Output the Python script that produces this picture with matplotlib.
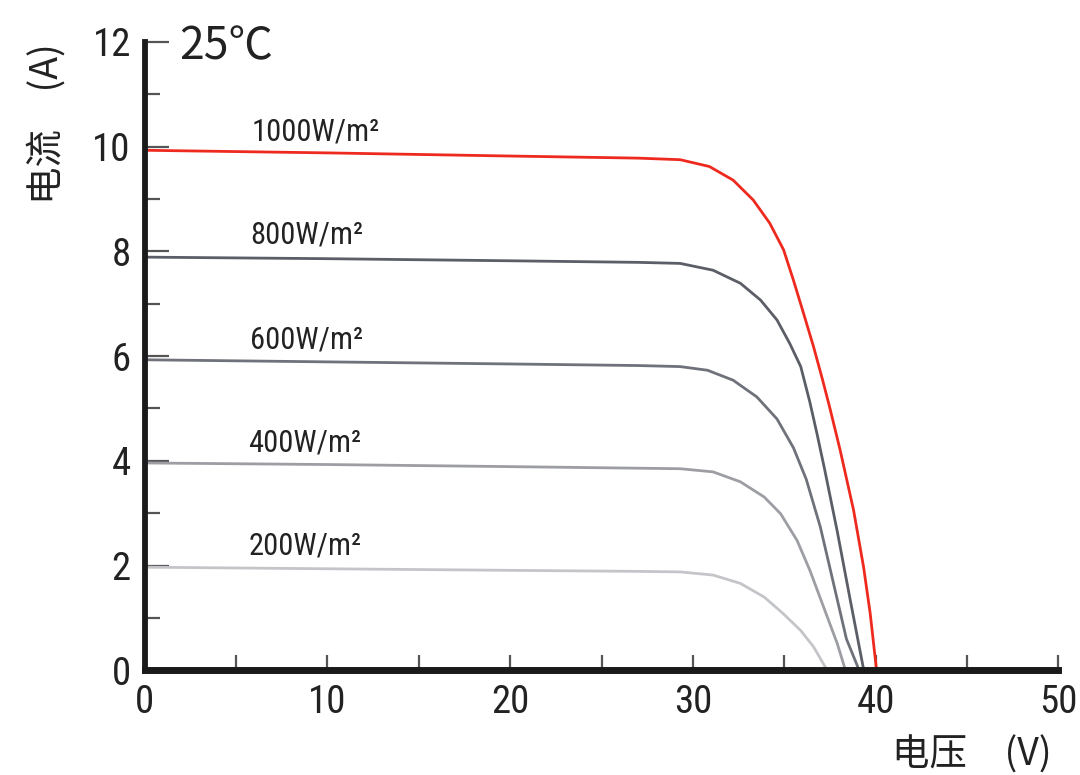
import matplotlib
matplotlib.use("Agg")
import matplotlib.pyplot as plt
from matplotlib.ticker import MultipleLocator
from matplotlib import font_manager

# pick a narrow latin font if one is installed
latin = 'Roboto'
for cand in ['Roboto Condensed', 'Liberation Sans Narrow', 'Open Sans Condensed']:
    try:
        font_manager.findfont(font_manager.FontProperties(family=cand), fallback_to_default=False)
        latin = cand
        break
    except Exception:
        pass

plt.rcParams['font.family'] = [latin, 'Noto Sans CJK SC', 'DejaVu Sans']

# ---- data ----
irradiance_labels = ["1000W/m²", "800W/m²", "600W/m²", "400W/m²", "200W/m²"]

v_1000 = [0, 10, 20, 27, 29.3, 30.9, 32.2, 33.3, 34.2, 34.96, 35.5, 36.05, 36.6, 37.1, 37.5,
          38.06, 38.79, 39.34, 39.7, 40.05]
i_1000 = [9.93, 9.88, 9.82, 9.78, 9.75, 9.62, 9.36, 8.98, 8.54, 8.03, 7.45, 6.82, 6.18, 5.54, 5.00,
          4.20, 3.06, 1.97, 1.09, 0.0]

v_800 = [0, 10, 20, 27, 29.3, 31.1, 32.6, 33.7, 34.6, 35.3, 35.9, 36.4, 36.8, 37.2, 37.9, 38.6, 39.35]
i_800 = [7.89, 7.86, 7.82, 7.79, 7.77, 7.64, 7.39, 7.07, 6.69, 6.24, 5.80, 5.12, 4.50, 3.85, 2.65, 1.36, 0.0]

v_600 = [0, 10, 20, 27, 29.3, 30.8, 32.2, 33.5, 34.6, 35.5, 36.2, 36.97, 37.7, 38.4, 39.1]
i_600 = [5.93, 5.89, 5.85, 5.82, 5.80, 5.73, 5.54, 5.22, 4.80, 4.25, 3.65, 2.74, 1.65, 0.60, 0.0]

v_400 = [0, 10, 20, 27, 29.3, 31.1, 32.6, 33.9, 34.8, 35.7, 36.4, 37.15, 37.9, 38.35]
i_400 = [3.96, 3.93, 3.89, 3.86, 3.85, 3.79, 3.60, 3.31, 2.99, 2.48, 1.91, 1.21, 0.51, 0.0]

v_200 = [0, 10, 20, 27, 29.3, 31.1, 32.6, 33.9, 34.95, 35.9, 36.6, 37.35]
i_200 = [1.97, 1.94, 1.91, 1.89, 1.88, 1.82, 1.66, 1.40, 1.08, 0.76, 0.45, 0.0]

x_ticks = [0, 10, 20, 30, 40, 50]
y_ticks = [0, 2, 4, 6, 8, 10, 12]

curves = [(v_1000, i_1000), (v_800, i_800), (v_600, i_600), (v_400, i_400), (v_200, i_200)]
colors = ["#ee2a1f", "#5b5e66", "#6f727a", "#9c9ea4", "#c4c5c9"]
label_pos = [(5.86, 10.28), (5.75, 8.32), (5.75, 6.31), (5.65, 4.34), (5.7, 2.37)]

fig = plt.figure(figsize=(10.8, 7.75), dpi=100)
ax = fig.add_axes([0.134, 0.135, 0.846, 0.811])

for (v, i), c in zip(curves, colors):
    ax.plot(v, i, color=c, lw=2.0, solid_capstyle='butt', solid_joinstyle='round')

for lab, (x, y) in zip(irradiance_labels, label_pos):
    ax.text(x, y, lab, fontsize=22, color="#222222", ha='left', va='center')

ax.set_xlim(0, 50)
ax.set_ylim(0, 12)
ax.set_xticks(x_ticks)
ax.set_yticks(y_ticks)
ax.xaxis.set_minor_locator(MultipleLocator(5))
ax.yaxis.set_minor_locator(MultipleLocator(1))

for s in ['top', 'right']:
    ax.spines[s].set_visible(False)
ax.spines['left'].set_linewidth(4.2)
ax.spines['bottom'].set_linewidth(5.0)
ax.spines['left'].set_color('#1a1a1a')
ax.spines['bottom'].set_color('#1a1a1a')

ax.tick_params(axis='y', which='major', direction='in', length=17, width=1.6,
               color='#555555', labelsize=28, labelcolor='#222222', pad=10)
ax.tick_params(axis='y', which='minor', direction='in', length=11, width=1.6,
               color='#555555')
ax.tick_params(axis='x', which='both', direction='in', length=11, width=1.6,
               color='#555555', labelsize=28, labelcolor='#222222', pad=10)

cjk = ['Noto Sans CJK SC', 'DejaVu Sans']
fig.text(0.044, 0.84, "电流\u3000(A)", rotation=90, fontsize=27, family=cjk,
         color='#222222', ha='center', va='center')
fig.text(0.9, 0.026, "电压\u3000(V)", fontsize=27, family=cjk,
         color='#222222', ha='center', va='center')
fig.text(0.166, 0.94, "25℃", fontsize=32, family=cjk,
         color='#222222', ha='left', va='center')

fig.savefig("out.png", dpi=100)
